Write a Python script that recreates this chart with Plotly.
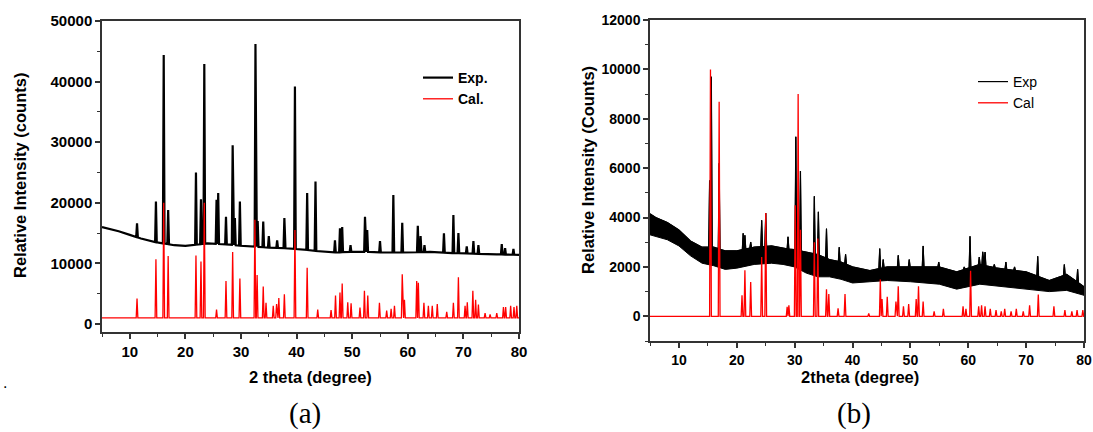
import numpy as np
import plotly.graph_objects as go

# ---------------- Panel (a) data ----------------
a_exp_base_x = [5, 6, 8, 10, 12, 14, 16, 18, 20, 22, 24, 26, 28, 30, 32, 35, 38, 41, 44, 47, 50, 53, 56, 60, 64, 68, 72, 76, 80]
a_exp_base_y = [16000, 15800, 15300, 14700, 14100, 13600, 13300, 13000, 12900, 13100, 13300, 13200, 13100, 12900, 12800,
                12600, 12500, 12300, 12000, 11800, 11900, 11900, 11800, 11800, 11900, 11700, 11600, 11500, 11400]
a_exp_peak_x = [11.3, 14.7, 16.1, 16.9, 21.9, 22.8, 23.4, 25.6, 25.9, 27.3, 28.5, 28.9, 29.8, 32.6, 33.0, 34.0, 35.0,
                36.5, 37.8, 39.7, 41.9, 43.4, 46.9, 47.8, 48.2, 49.7, 52.3, 52.7, 55.0, 57.4, 59.0, 61.8, 62.3, 63.0,
                66.5, 68.2, 69.1, 70.6, 71.8, 72.7, 76.9, 77.5, 79.0]
a_exp_peak_y = [16600, 20200, 44400, 18800, 25000, 20600, 42900, 20500, 21600, 17700, 29500, 17500, 20200, 46200, 17000,
                16900, 14500, 13800, 17500, 39200, 21600, 23500, 13800, 15800, 16000, 13000, 17700, 15500, 13700, 21300,
                16700, 16200, 14500, 13000, 14950, 18000, 15000, 12800, 13700, 13000, 13200, 12500, 12400]
a_cal_base_x = [5, 80]
a_cal_base_y = [1000, 1000]
a_cal_peak_x = [11.3, 14.7, 16.1, 16.9, 21.9, 22.8, 23.4, 25.6, 27.3, 28.5, 29.8, 32.5, 32.9, 34.0, 34.5, 35.8, 36.4,
                36.8, 37.8, 39.7, 41.9, 43.8, 46.2, 47.0, 47.8, 48.2, 49.2, 49.8, 51.4, 52.2, 52.8, 54.9, 56.2, 57.0,
                57.6, 59.0, 59.4, 61.6, 61.9, 62.9, 63.7, 64.4, 65.3, 67.0, 68.2, 69.1, 70.3, 70.7, 71.7, 72.2, 72.7,
                73.9, 74.8, 76.0, 77.2, 77.6, 78.5, 79.1, 79.6]
a_cal_peak_y = [4200, 10700, 20000, 11200, 11300, 10300, 20000, 2400, 7100, 11900, 7500, 17200, 8100, 6200, 3500,
                3000, 3300, 4300, 4900, 15500, 9300, 2400, 2300, 4700, 5200, 6700, 3600, 3400, 2700, 5500, 4700, 3500,
                2200, 2500, 3000, 8200, 4000, 7100, 6800, 3500, 3000, 3000, 3300, 2000, 3500, 7700, 3000, 3600, 5500,
                4000, 3200, 1800, 1600, 1800, 2800, 2800, 3000, 2800, 3000]

# ---------------- Panel (b) data ----------------
b_exp_base_x = [5, 6, 8, 10, 12, 14, 16, 18, 20, 23, 26, 28, 30, 32, 34, 36, 38, 40, 43, 46, 50, 55, 58, 62, 65, 70, 74, 77, 80]
b_exp_upper = [4150, 4000, 3800, 3500, 3050, 2800, 2800, 2650, 2650, 2800, 2850, 2750, 2700, 2600, 2500, 2300, 2200,
               2000, 1850, 2000, 2000, 2000, 1800, 2100, 1950, 1800, 1450, 1700, 1200]
b_exp_lower = [3300, 3250, 3100, 2850, 2450, 2150, 2050, 1900, 1950, 2100, 2150, 2100, 2000, 1750, 1600, 1600, 1500,
               1350, 1400, 1450, 1400, 1300, 1100, 1300, 1250, 1100, 1000, 1050, 850]
b_exp_peak_x = [15.3, 15.6, 16.95, 21.1, 21.4, 22.4, 24.3, 25.0, 28.85, 30.2, 31.0, 33.4, 34.1, 35.5, 37.7, 38.8, 44.7,
                45.3, 47.9, 49.8, 52.2, 54.9, 59.3, 60.3, 61.9, 62.5, 62.9, 64.5, 66.5, 68.0, 72.0, 76.6, 78.9]
b_exp_peak_y = [5500, 9700, 6200, 3360, 3280, 3010, 3890, 4180, 3220, 7270, 5880, 4860, 4230, 3550, 2800, 2510, 2740,
                2300, 2470, 2300, 2850, 2200, 2000, 3240, 2400, 2610, 2600, 2100, 2200, 2000, 2430, 2100, 1900]
b_cal_base_x = [5, 80]
b_cal_base_y = [0, 0]
b_cal_peak_x = [15.45, 16.95, 20.9, 21.4, 22.4, 24.3, 25.0, 28.7, 29.0, 30.1, 30.6, 31.0, 33.4, 34.0, 35.5, 35.9, 37.5,
                38.7, 42.8, 44.8, 45.1, 46.0, 47.5, 47.9, 48.8, 49.7, 51.0, 51.4, 52.2, 54.1, 55.7, 59.1, 59.6, 60.4,
                61.8, 62.3, 62.9, 63.8, 64.8, 65.7, 66.3, 67.4, 68.3, 69.5, 70.6, 72.1, 74.8, 76.7, 77.9, 78.8, 79.8]
b_cal_peak_y = [10000, 8690, 850, 1860, 1390, 2400, 4180, 380, 450, 4500, 9000, 3500, 3000, 3150, 1100, 900, 320, 900,
                120, 1490, 700, 790, 600, 1220, 400, 500, 700, 1220, 600, 200, 300, 400, 300, 1840, 400, 450, 400, 300,
                250, 200, 300, 200, 300, 200, 450, 880, 400, 250, 200, 250, 250]


def profile(base_x, base_y, peak_x, peak_y, hw):
    """Baseline points plus a narrow spike at every listed peak."""
    pts = []
    for bx, by in zip(base_x, base_y):
        if all(abs(bx - p) > hw for p in peak_x):
            pts.append((bx, by))
    for p, h in zip(peak_x, peak_y):
        for dx in (-hw, hw):
            pts.append((p + dx, float(np.interp(p + dx, base_x, base_y))))
        pts.append((p, h))
    pts.sort()
    return [q[0] for q in pts], [q[1] for q in pts]


W, H = 1093, 432
FONT = "Liberation Sans, Arial, sans-serif"
SERIF = "Liberation Serif, Times New Roman, serif"


def fx(x):
    return x / W


def fy(y):
    return 1 - y / H


fig = go.Figure()

# panel (a)
ax, ay = profile(a_exp_base_x, a_exp_base_y, a_exp_peak_x, a_exp_peak_y, 0.15)
fig.add_trace(go.Scatter(x=ax, y=ay, mode="lines", name="Exp.", line=dict(color="black", width=2.2),
                         xaxis="x", yaxis="y", legend="legend"))
cx, cy = profile(a_cal_base_x, a_cal_base_y, a_cal_peak_x, a_cal_peak_y, 0.15)
fig.add_trace(go.Scatter(x=cx, y=cy, mode="lines", name="Cal.", line=dict(color="#ff0000", width=1.3),
                         xaxis="x", yaxis="y", legend="legend"))

# panel (b)
ux, uy = profile(b_exp_base_x, b_exp_upper, b_exp_peak_x, b_exp_peak_y, 0.15)
fig.add_trace(go.Scatter(x=ux + b_exp_base_x[::-1], y=uy + b_exp_lower[::-1], mode="lines", fill="toself",
                         fillcolor="black", line=dict(color="black", width=1), showlegend=False,
                         xaxis="x2", yaxis="y2", hoverinfo="skip"))
fig.add_trace(go.Scatter(x=ux, y=uy, mode="lines", name="Exp", line=dict(color="black", width=1.2),
                         xaxis="x2", yaxis="y2", legend="legend2"))
dx2, dy2 = profile(b_cal_base_x, b_cal_base_y, b_cal_peak_x, b_cal_peak_y, 0.15)
fig.add_trace(go.Scatter(x=dx2, y=dy2, mode="lines", name="Cal", line=dict(color="#ff0000", width=1.3),
                         xaxis="x2", yaxis="y2", legend="legend2"))

axis_style = dict(showline=True, linecolor="#333", linewidth=1.5, mirror=True, ticks="outside",
                  tickcolor="#333", tickwidth=1.5, ticklen=5, showgrid=False, zeroline=False,
                  automargin=False, tickformat="d")


def tickfont(size):
    return dict(family=FONT, size=size, color="black", weight="bold")


def minor(step):
    return dict(ticks="outside", dtick=step, ticklen=3, tickcolor="#333", tickwidth=1.2, showgrid=False)


fig.update_layout(
    width=W, height=H, margin=dict(l=0, r=0, t=0, b=0, autoexpand=False),
    paper_bgcolor="white", plot_bgcolor="white", showlegend=True,
    xaxis=dict(domain=[fx(102), fx(519)], range=[5, 80], anchor="y", tick0=0, dtick=10,
               minor=minor(5), tickfont=tickfont(15), **axis_style),
    yaxis=dict(domain=[fy(332), fy(21)], range=[-1320, 50000], anchor="x", tick0=0, dtick=10000,
               minor=minor(5000), tickfont=tickfont(15), **axis_style),
    xaxis2=dict(domain=[fx(650), fx(1084)], range=[5, 80], anchor="y2", tick0=0, dtick=10,
                minor=minor(5), tickfont=tickfont(14), **axis_style),
    yaxis2=dict(domain=[fy(341), fy(20)], range=[-1000, 12000], anchor="x2", tick0=0, dtick=2000,
                minor=minor(1000), tickfont=tickfont(14), **axis_style),
    legend=dict(x=fx(418), y=fy(62), xanchor="left", yanchor="top", bgcolor="rgba(0,0,0,0)",
                font=dict(family=FONT, size=14, color="black", weight="bold"), itemwidth=30,
                tracegroupgap=0, traceorder="normal"),
    legend2=dict(x=fx(973), y=fy(66), xanchor="left", yanchor="top", bgcolor="rgba(0,0,0,0)",
                 font=dict(family=FONT, size=14, color="black"), itemwidth=30,
                 tracegroupgap=0, traceorder="normal"),
)

ann = [
    dict(text="2 theta (degree)", x=fx(310), y=fy(377), size=16.5, bold=True, angle=0, family=FONT, anchor="center"),
    dict(text="Relative Intensity (counts)", x=fx(20), y=fy(176), size=16.5, bold=True, angle=-90, family=FONT, anchor="center"),
    dict(text="2theta (degree)", x=fx(860), y=fy(377), size=16.5, bold=True, angle=0, family=FONT, anchor="center"),
    dict(text="Relative Intensity (Counts)", x=fx(588), y=fy(170), size=16.5, bold=True, angle=-90, family=FONT, anchor="center"),
    dict(text="(a)", x=fx(305), y=fy(413), size=29, bold=False, angle=0, family=SERIF, anchor="center"),
    dict(text="(b)", x=fx(854), y=fy(413), size=29, bold=False, angle=0, family=SERIF, anchor="center"),
    dict(text=".", x=fx(1), y=fy(382), size=16, bold=False, angle=0, family=FONT, anchor="left"),
]
for a in ann:
    fig.add_annotation(text=a["text"], x=a["x"], y=a["y"], xref="paper", yref="paper",
                       xanchor=a["anchor"], yanchor="middle", showarrow=False, textangle=a["angle"],
                       font=dict(family=a["family"], size=a["size"], color="black",
                                 weight="bold" if a["bold"] else "normal"))

fig.write_html("out.html", config={"displayModeBar": False},
               post_script="document.body.style.margin='0';document.body.style.overflow='hidden';")
